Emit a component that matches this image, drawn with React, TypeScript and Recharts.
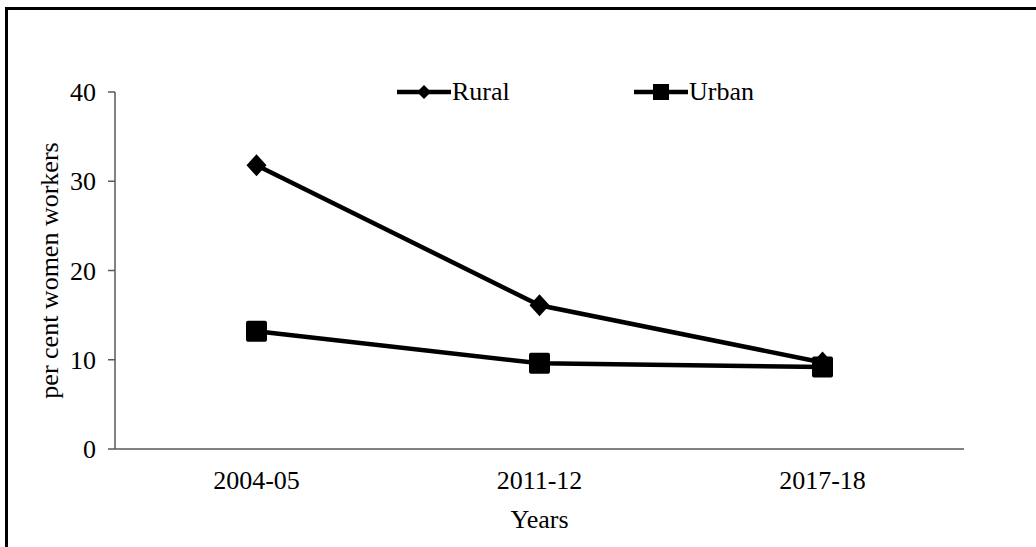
import React from "react";
import { LineChart, Line, XAxis, YAxis, Legend } from "recharts";

const years = ["2004-05", "2011-12", "2017-18"];
const rural = [31.8, 16.1, 9.7];
const urban = [13.2, 9.6, 9.2];
const yTicks = [0, 10, 20, 30, 40];

const data = years.map((year, i) => ({ year, rural: rural[i], urban: urban[i] }));

const FONT = "'Liberation Serif', 'Times New Roman', serif";
const FS = 26;
const AXIS = "#595959";

const Diamond = (props: any) => {
  const { cx, cy } = props;
  if (cx == null || cy == null) return null;
  return (
    <polygon
      points={`${cx},${cy - 11} ${cx + 10},${cy} ${cx},${cy + 11} ${cx - 10},${cy}`}
      fill="#000"
    />
  );
};

const Square = (props: any) => {
  const { cx, cy } = props;
  if (cx == null || cy == null) return null;
  return <rect x={cx - 10.5} y={cy - 10.5} width={21} height={21} rx={2} fill="#000" />;
};

// legend laid out like the original: two entries spread over the top
const legendLeft: Record<string, number> = { Rural: 397, Urban: 634 };

const ChartLegend = ({ payload }: any) => (
  <div style={{ position: "relative", height: 24, fontFamily: FONT, fontSize: FS }}>
    {(payload || []).map((entry: any) => (
      <div
        key={entry.value}
        style={{
          position: "absolute",
          left: legendLeft[entry.value],
          top: 0,
          display: "flex",
          alignItems: "center",
          height: 24,
          lineHeight: "24px",
        }}
      >
        <svg width={54} height={20} style={{ flex: "none" }}>
          <line x1={0} y1={10} x2={54} y2={10} stroke="#000" strokeWidth={4.5} />
          {entry.value === "Rural" ? (
            <polygon points="27,3 34,10 27,17 20,10" fill="#000" />
          ) : (
            <rect x={19} y={2} width={16} height={16} fill="#000" />
          )}
        </svg>
        <span style={{ marginLeft: 1, color: "#000" }}>{entry.value}</span>
      </div>
    ))}
  </div>
);

const YLabel = ({ viewBox }: any) => {
  const x = viewBox.x - 6;
  const y = viewBox.y + viewBox.height / 2;
  return (
    <text
      x={x}
      y={y}
      transform={`rotate(-90, ${x}, ${y})`}
      textAnchor="middle"
      dominantBaseline="central"
      fill="#000"
      fontSize={FS}
      fontFamily={FONT}
    >
      per cent women workers
    </text>
  );
};

export default function App() {
  return (
    <div style={{ position: "absolute", left: 0, top: 0, width: 1036, height: 547, background: "#fff" }}>
      <LineChart
        width={1036}
        height={547}
        data={data}
        margin={{ top: 68, right: 72, bottom: 38, left: 55 }}
        style={{ fontFamily: FONT }}
      >
        <XAxis
          dataKey="year"
          height={60}
          padding={{ left: 141.5, right: 141.5 }}
          stroke={AXIS}
          strokeWidth={1.5}
          tickLine={false}
          tickSize={0}
          tickMargin={22}
          tick={{ fill: "#000", fontSize: FS, fontFamily: FONT }}
          label={{ value: "Years", position: "bottom", offset: 1, fill: "#000", fontSize: FS, fontFamily: FONT }}
        />
        <YAxis
          width={60}
          domain={[0, 40]}
          ticks={yTicks}
          stroke={AXIS}
          strokeWidth={1.5}
          tickSize={7}
          tickMargin={12}
          tick={{ fill: "#000", fontSize: FS, fontFamily: FONT }}
          label={<YLabel />}
        />
        <Legend
          verticalAlign="top"
          height={24}
          content={<ChartLegend />}
          wrapperStyle={{ top: 80, left: 0, width: 1036, height: 24 }}
        />
        <Line
          dataKey="rural"
          name="Rural"
          stroke="#000"
          strokeWidth={4.5}
          dot={<Diamond />}
          activeDot={false}
          isAnimationActive={false}
        />
        <Line
          dataKey="urban"
          name="Urban"
          stroke="#000"
          strokeWidth={4.5}
          dot={<Square />}
          activeDot={false}
          isAnimationActive={false}
        />
      </LineChart>
      <div
        style={{
          position: "absolute",
          left: 5,
          top: 7,
          width: 1036,
          height: 547,
          borderLeft: "3px solid #000",
          borderTop: "3px solid #000",
          boxSizing: "border-box",
          pointerEvents: "none",
        }}
      />
    </div>
  );
}
